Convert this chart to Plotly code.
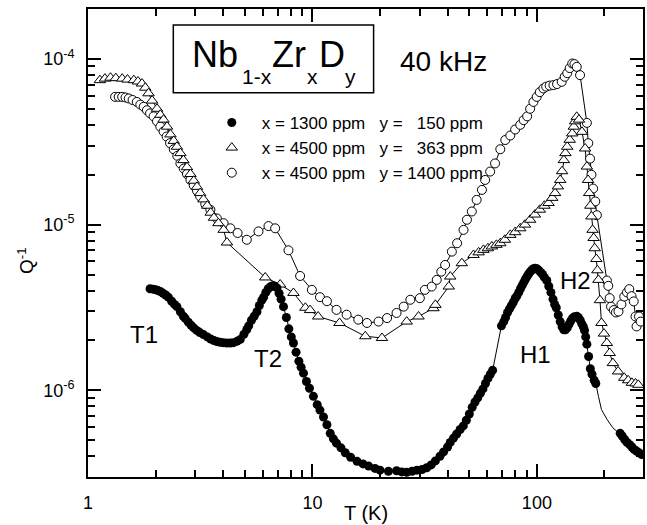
import plotly.graph_objects as go
import numpy as np

# ---------------- data ----------------
# Series 1: x = 1300 ppm, y = 150 ppm (filled circles)
s1_T = [1.89, 1.95, 2.00, 2.05, 2.10, 2.16, 2.22, 2.28, 2.36, 2.43, 2.49, 2.58, 2.66, 2.71, 2.80,
        2.88, 2.96, 3.05, 3.15, 3.27, 3.40, 3.52, 3.64, 3.75, 3.88, 4.00, 4.15, 4.31, 4.45, 4.62,
        4.77, 4.95, 5.10, 5.20, 5.35, 5.50, 5.66, 5.80, 5.95, 6.06, 6.20, 6.35, 6.50, 6.65, 6.80,
        6.95, 7.10, 7.25, 7.43, 7.65, 7.85, 8.05, 8.23, 8.45, 8.70, 8.90, 9.12, 9.40, 9.70, 10.1,
        10.5, 10.8, 11.2, 11.6, 12.0, 12.4, 12.8, 13.4, 14.0, 14.8, 15.8, 16.8, 17.8, 19.0, 20.0,
        21.8, 23.7, 25.0, 26.3, 27.8, 29.2, 30.8, 32.3, 33.8, 35.3, 37.0, 38.4, 40.0, 41.1, 42.5,
        43.9, 45.5, 47.0, 48.5, 50.0, 51.5, 53.0, 54.5, 56.0, 57.5, 59.0, 60.5, 62.0, 63.5,
        69.5, 71.2, 72.5, 74.0, 75.5, 77.0, 78.5, 80.0, 81.3, 83.0, 84.5, 86.0, 87.5, 89.0, 90.5,
        92.0, 93.5, 95.0, 96.5, 98.3, 100, 102, 104, 106, 108, 110.7, 113, 115.5, 118, 120, 122,
        124.5, 127, 129.5, 131.8, 134, 136.5, 139, 141.5, 144, 147, 150.5, 153, 156, 158.5, 161,
        163, 165, 167, 170, 173, 176, 180, 183,
        235, 240, 246, 252, 259, 265, 271, 278, 285, 293]
s1_Q = [4.10e-6, 4.08e-6, 4.05e-6, 4.00e-6, 3.95e-6, 3.85e-6, 3.76e-6, 3.65e-6, 3.45e-6, 3.30e-6,
        3.20e-6, 2.98e-6, 2.80e-6, 2.72e-6, 2.58e-6, 2.47e-6, 2.38e-6, 2.30e-6, 2.23e-6, 2.17e-6,
        2.10e-6, 2.04e-6, 2.00e-6, 1.97e-6, 1.95e-6, 1.94e-6, 1.93e-6, 1.93e-6, 1.94e-6, 1.98e-6,
        2.03e-6, 2.18e-6, 2.33e-6, 2.45e-6, 2.65e-6, 2.80e-6, 2.98e-6, 3.25e-6, 3.50e-6, 3.65e-6,
        3.90e-6, 4.10e-6, 4.22e-6, 4.28e-6, 4.25e-6, 4.15e-6, 3.85e-6, 3.55e-6, 3.20e-6, 2.75e-6,
        2.35e-6, 2.10e-6, 1.93e-6, 1.70e-6, 1.50e-6, 1.38e-6, 1.27e-6, 1.13e-6, 1.03e-6, 9.2e-7,
        8.2e-7, 7.6e-7, 6.9e-7, 6.2e-7, 5.5e-7, 5.1e-7, 4.8e-7, 4.5e-7, 4.2e-7, 3.95e-7, 3.73e-7,
        3.6e-7, 3.49e-7, 3.38e-7, 3.30e-7, 3.25e-7, 3.27e-7, 3.22e-7, 3.20e-7, 3.25e-7, 3.30e-7,
        3.33e-7, 3.41e-7, 3.55e-7, 3.75e-7, 4.0e-7, 4.25e-7, 4.55e-7, 4.85e-7, 5.15e-7, 5.45e-7,
        5.8e-7, 6.1e-7, 6.6e-7, 7.2e-7, 7.9e-7, 8.5e-7, 9.0e-7, 9.6e-7, 1.02e-6, 1.10e-6, 1.18e-6,
        1.25e-6, 1.32e-6,
        2.45e-6, 2.60e-6, 2.75e-6, 2.95e-6, 3.10e-6, 3.25e-6, 3.40e-6, 3.58e-6, 3.70e-6, 3.90e-6,
        4.10e-6, 4.30e-6, 4.50e-6, 4.70e-6, 4.88e-6, 5.05e-6, 5.20e-6, 5.33e-6, 5.42e-6, 5.46e-6,
        5.42e-6, 5.30e-6, 5.15e-6, 5.00e-6, 4.80e-6, 4.60e-6, 4.25e-6, 3.90e-6, 3.55e-6, 3.30e-6,
        3.15e-6, 2.85e-6, 2.60e-6, 2.42e-6, 2.32e-6, 2.32e-6, 2.38e-6, 2.50e-6, 2.62e-6, 2.72e-6,
        2.78e-6, 2.80e-6, 2.75e-6, 2.65e-6, 2.52e-6, 2.42e-6, 2.30e-6, 2.10e-6, 1.90e-6, 1.60e-6,
        1.35e-6, 1.25e-6, 1.15e-6, 1.10e-6,
        5.5e-7, 5.3e-7, 5.05e-7, 4.85e-7, 4.7e-7, 4.55e-7, 4.4e-7, 4.3e-7, 4.2e-7, 4.1e-7]
# guide line through the unmarked stretch of series 1
s1_gap_T = [188, 194, 205, 218, 230]
s1_gap_Q = [9.2e-7, 7.65e-7, 6.7e-7, 5.94e-7, 5.58e-7]

# Series 2: x = 4500 ppm, y = 363 ppm (open triangles)
s2_T = [1.13, 1.19, 1.26, 1.33, 1.42, 1.50, 1.60, 1.67, 1.74, 1.80, 1.86, 1.93, 2.03, 2.10, 2.17,
        2.25, 2.33, 2.41, 2.49, 2.58, 2.66, 2.76, 2.86, 2.96, 3.06, 3.16, 3.27, 3.40, 3.52, 3.64,
        3.81, 4.02, 4.16, 6.16, 7.18, 8.23, 9.30, 9.76, 10.6, 13.2, 17.2, 20.4, 26.3, 29.7, 34.6,
        35.3, 40.5, 41.1, 46.3, 52.2, 55.0, 57.8, 60.5, 63.0, 66.0, 68.7, 72.0, 76.1, 80.0, 84.3,
        88.5, 93.3, 98.0, 103, 108, 112.7, 117, 120.5, 124, 127, 129.5, 131.8, 134, 136.5, 140,
        143.7, 146, 148, 150.5, 154, 158.8, 164, 167, 169, 171, 173, 175, 177, 179, 181, 184, 186,
        188, 191, 194, 199, 205, 211, 218, 230, 245, 255, 265, 275, 283]
s2_Q = [7.44e-5, 7.6e-5, 7.7e-5, 7.65e-5, 7.6e-5, 7.5e-5, 7.44e-5, 7.3e-5, 7.1e-5, 6.7e-5, 6.2e-5,
        5.6e-5, 5.0e-5, 4.6e-5, 4.3e-5, 3.9e-5, 3.5e-5, 3.2e-5, 2.95e-5, 2.7e-5, 2.45e-5, 2.22e-5,
        2.02e-5, 1.84e-5, 1.69e-5, 1.55e-5, 1.42e-5, 1.30e-5, 1.18e-5, 1.10e-5, 1.02e-5, 9.3e-6,
        7.8e-6, 4.8e-6, 4.35e-6, 3.87e-6, 3.15e-6, 3.05e-6, 2.79e-6, 2.55e-6, 2.12e-6, 2.07e-6,
        2.6e-6, 2.79e-6, 3.13e-6, 3.28e-6, 4.23e-6, 4.86e-6, 5.85e-6, 6.56e-6, 6.8e-6, 7.04e-6,
        7.2e-6, 7.38e-6, 7.55e-6, 7.72e-6, 8.1e-6, 8.67e-6, 9.0e-6, 9.5e-6, 1.0e-5, 1.07e-5,
        1.15e-5, 1.23e-5, 1.30e-5, 1.35e-5, 1.45e-5, 1.55e-5, 1.70e-5, 1.86e-5, 2.1e-5, 2.45e-5,
        2.7e-5, 2.95e-5, 3.25e-5, 3.55e-5, 3.9e-5, 4.2e-5, 4.47e-5, 4.3e-5, 3.63e-5, 2.88e-5,
        2.24e-5, 1.86e-5, 1.55e-5, 1.30e-5, 1.12e-5, 9.3e-6, 8.3e-6, 7.2e-6, 6.2e-6, 5.3e-6,
        4.64e-6, 3.5e-6, 2.55e-6, 2.2e-6, 1.93e-6, 1.68e-6, 1.46e-6, 1.30e-6, 1.19e-6, 1.15e-6,
        1.11e-6, 1.10e-6, 1.08e-6]

# Series 3: x = 4500 ppm, y = 1400 ppm (open circles)
s3_T = [1.32, 1.37, 1.42, 1.47, 1.52, 1.58, 1.65, 1.71, 1.77, 1.83, 1.89, 1.96, 2.03, 2.10, 2.17,
        2.24, 2.32, 2.41, 2.50, 2.58, 2.67, 2.76, 2.86, 2.96, 3.06, 3.16, 3.33, 3.51, 3.75, 4.02,
        4.31, 4.64, 5.10, 5.75, 6.37, 6.82, 7.82, 8.81, 9.94, 10.8, 11.6, 12.8, 14.2, 16.0, 17.5,
        19.7, 21.5, 23.7, 25.5, 27.3, 30.1, 31.7, 34.0, 35.8, 37.5, 39.0, 41.8, 44.1, 47.1, 48.8,
        51.3, 53.9, 56.9, 58.8, 61.9, 65.1, 68.7, 72.3, 76.1, 80.0, 84.3, 87.3, 90.5, 93.3, 96.5,
        99.8, 103, 106.9, 110, 114, 118.5, 123, 129, 133, 136.5, 140, 143.7, 147, 150.5, 155.7,
        167, 169.4, 172.5, 175, 178, 182, 185, 205, 208, 211, 214, 220, 225, 231, 238, 245, 252,
        258, 264, 270, 275, 278, 285, 290]
s3_Q = [5.9e-5, 5.9e-5, 5.9e-5, 5.85e-5, 5.77e-5, 5.65e-5, 5.5e-5, 5.3e-5, 5.14e-5, 4.9e-5, 4.69e-5,
        4.5e-5, 4.2e-5, 3.9e-5, 3.65e-5, 3.4e-5, 3.1e-5, 2.85e-5, 2.6e-5, 2.34e-5, 2.18e-5, 2.02e-5,
        1.86e-5, 1.72e-5, 1.60e-5, 1.48e-5, 1.33e-5, 1.23e-5, 1.09e-5, 1.02e-5, 9.5e-6, 8.9e-6,
        8.1e-6, 9.1e-6, 9.8e-6, 9.5e-6, 7.0e-6, 4.9e-6, 4.04e-6, 3.65e-6, 3.45e-6, 3.06e-6, 2.86e-6,
        2.67e-6, 2.55e-6, 2.6e-6, 2.73e-6, 2.93e-6, 3.2e-6, 3.52e-6, 3.6e-6, 4.04e-6, 4.23e-6,
        4.64e-6, 5.2e-6, 5.71e-6, 6.87e-6, 7.72e-6, 9.29e-6, 1.07e-5, 1.20e-5, 1.41e-5, 1.62e-5,
        1.86e-5, 2.09e-5, 2.34e-5, 2.85e-5, 3.24e-5, 3.45e-5, 3.75e-5, 4.0e-5, 4.27e-5, 4.5e-5,
        5.0e-5, 5.5e-5, 5.9e-5, 6.3e-5, 6.63e-5, 6.8e-5, 6.9e-5, 6.95e-5, 7.05e-5, 7.27e-5, 7.8e-5,
        8.2e-5, 8.8e-5, 9.38e-5, 9.3e-5, 8.95e-5, 7.98e-5, 4.11e-5, 3.1e-5, 2.5e-5, 2.0e-5,
        1.65e-5, 1.38e-5, 1.14e-5, 4.6e-6, 4.27e-6, 3.6e-6, 3.2e-6, 3.05e-6, 2.95e-6, 2.99e-6,
        3.3e-6, 3.68e-6, 3.9e-6, 4.08e-6, 3.7e-6, 3.44e-6, 2.79e-6, 2.43e-6, 2.79e-6, 2.6e-6]

legend_names = ["x = 1300 ppm&nbsp;&nbsp;&nbsp;y = &nbsp;&nbsp;150 ppm",
                "x = 4500 ppm&nbsp;&nbsp;&nbsp;y = &nbsp;&nbsp;363 ppm",
                "x = 4500 ppm&nbsp;&nbsp;&nbsp;y = 1400 ppm"]

y_tick_vals = [1e-6, 1e-5, 1e-4]
y_tick_text = ["10<sup>-6</sup>", "10<sup>-5</sup>", "10<sup>-4</sup>"]

# chemical formula pieces: (text, is_subscript)
formula_parts = [("Nb", False), ("1-x", True), ("Zr", False), ("x", True), ("D", False), ("y", True)]

x_range_T = [1, 297]
y_range_Q = [3e-7, 2e-4]

# ---------------- figure ----------------
FONT = "Liberation Sans, Arial, Helvetica, sans-serif"
fig = go.Figure()

# guide lines
s1_line = sorted(zip(s1_T + s1_gap_T, s1_Q + s1_gap_Q))
line_sets = [
    ([p[0] for p in s1_line], [p[1] for p in s1_line]),
    (s2_T, s2_Q),
    (s3_T, s3_Q),
]
for lx, ly in line_sets[::-1]:
    fig.add_trace(go.Scatter(x=lx, y=ly, mode="lines", line=dict(color="black", width=1),
                             showlegend=False, hoverinfo="skip"))

# markers (open circles, triangles, then filled circles on top)
fig.add_trace(go.Scatter(x=s3_T, y=s3_Q, mode="markers", name=legend_names[2], legendrank=3,
                         marker=dict(symbol="circle", size=9, color="white",
                                     line=dict(color="black", width=1))))
fig.add_trace(go.Scatter(x=s2_T, y=s2_Q, mode="markers", name=legend_names[1], legendrank=2,
                         marker=dict(symbol="triangle-up", size=10, color="white",
                                     line=dict(color="black", width=1))))
fig.add_trace(go.Scatter(x=s1_T, y=s1_Q, mode="markers", name=legend_names[0], legendrank=1,
                         marker=dict(symbol="circle", size=9, color="black",
                                     line=dict(color="black", width=0))))

axis_common = dict(type="log", showline=True, linecolor="black", linewidth=2, mirror="allticks",
                   ticks="inside", ticklen=13, tickwidth=1.5, tickcolor="black",
                   showgrid=False, zeroline=False, automargin=False,
                   minor=dict(ticks="inside", ticklen=7, tickwidth=1.5, tickcolor="black",
                              dtick="D1", showgrid=False))

fig.update_layout(
    width=647, height=525,
    margin=dict(l=88, r=4, t=9, b=48, autoexpand=False),
    paper_bgcolor="white", plot_bgcolor="white",
    font=dict(family=FONT, color="black"),
    xaxis=dict(axis_common, range=[np.log10(x_range_T[0]), np.log10(x_range_T[1])], dtick=1,
               tickfont=dict(size=18, family=FONT), ticklabelstandoff=8),
    yaxis=dict(axis_common, range=[np.log10(y_range_Q[0]), np.log10(y_range_Q[1])],
               tickmode="array", tickvals=y_tick_vals, ticktext=y_tick_text,
               tickfont=dict(size=18, family=FONT), ticklabelstandoff=8),
    legend=dict(x=0.205, y=0.795, xanchor="left", yanchor="top", bgcolor="rgba(0,0,0,0)",
                font=dict(size=17, family=FONT), itemwidth=50, tracegroupgap=0),
    showlegend=True,
)

# formula box
fig.add_shape(type="rect", xref="paper", yref="paper", x0=0.1537, x1=0.5146, y0=0.8213, y1=0.9658,
              line=dict(color="black", width=1.5), fillcolor="white", layer="below")

# formula pieces laid out left to right
formula_x = [0.1838, 0.2739, 0.3279, 0.3910, 0.4119, 0.4600]
for (txt, is_sub), fx in zip(formula_parts, formula_x):
    fig.add_annotation(text=txt, x=fx, y=0.8553 if is_sub else 0.9018, xref="paper", yref="paper",
                       xanchor="left", yanchor="middle", showarrow=False,
                       font=dict(size=21 if is_sub else 36, family=FONT, color="black"))

annots = [
    dict(text="40 kHz", x=0.559, y=0.887, size=28, xanchor="left", yanchor="middle"),
    dict(text="T1", x=0.1005, y=0.305, size=24, xanchor="center", yanchor="middle"),
    dict(text="T2", x=0.324, y=0.2526, size=24, xanchor="center", yanchor="middle"),
    dict(text="H1", x=0.806, y=0.261, size=24, xanchor="center", yanchor="middle"),
    dict(text="H2", x=0.879, y=0.419, size=24, xanchor="center", yanchor="middle"),
    dict(text="T (K)", x=0.5, y=-0.076, size=20, xanchor="center", yanchor="middle"),
]
for a in annots:
    fig.add_annotation(text=a["text"], x=a["x"], y=a["y"], xref="paper", yref="paper",
                       xanchor=a["xanchor"], yanchor=a["yanchor"], showarrow=False,
                       font=dict(size=a["size"], family=FONT, color="black"))
fig.add_annotation(text="Q<sup>-1</sup>", x=-0.113, y=0.462, xref="paper", yref="paper",
                   textangle=-90, showarrow=False, xanchor="center", yanchor="middle",
                   font=dict(size=19, family=FONT, color="black"))

fig.write_html("out.html", config={"displayModeBar": False},
               post_script="document.body.style.margin='0px';")
